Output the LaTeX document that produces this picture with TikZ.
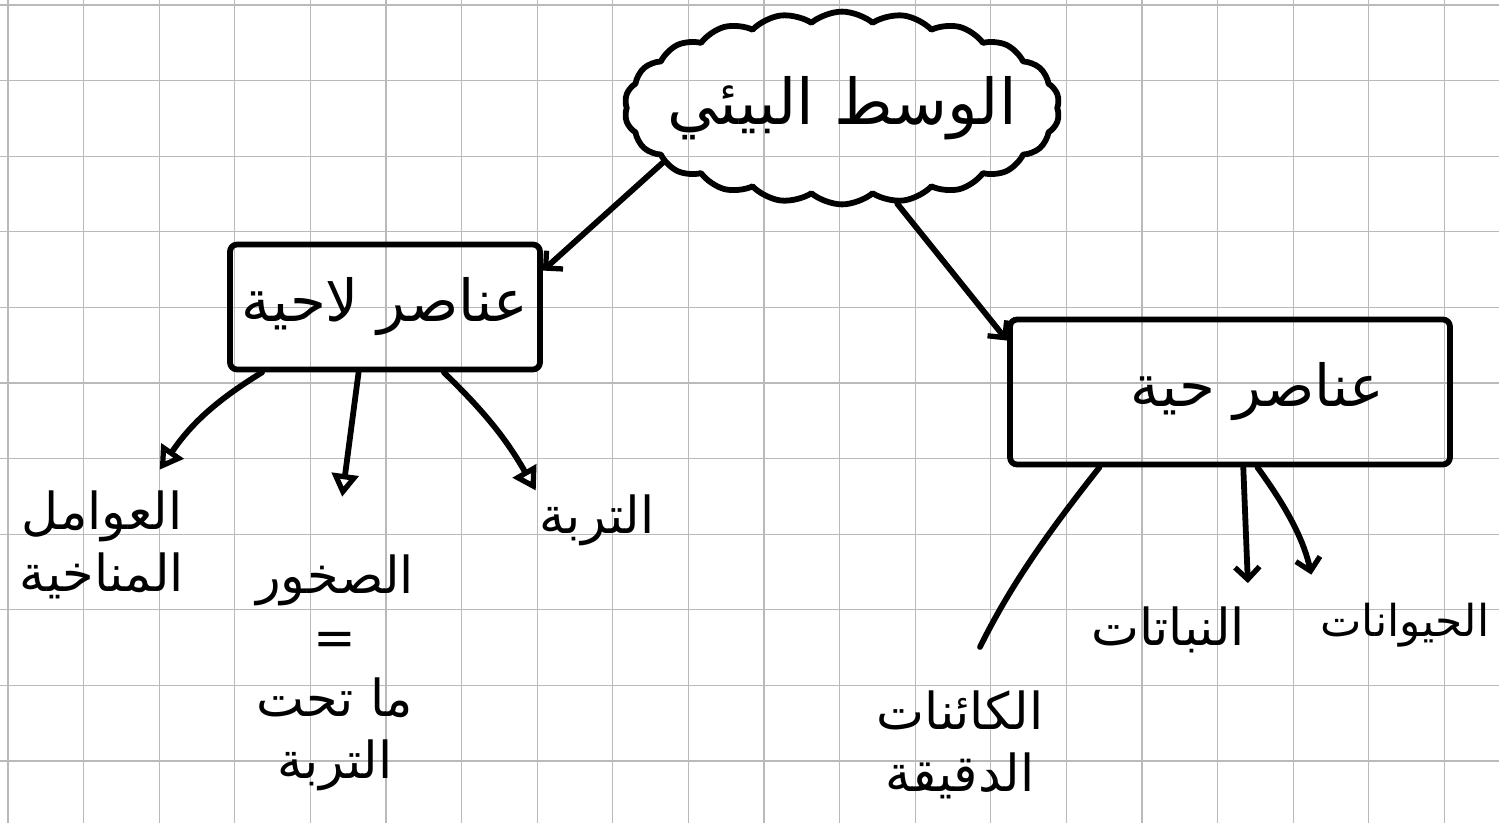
\documentclass[tikz,border=0pt]{standalone}
\usepackage{fontspec}
\newfontfamily\arabicfont[Script=Arabic]{DejaVu Sans}
\TeXXeTstate=1
\usetikzlibrary{positioning,arrows.meta,shapes.symbols}
\tikzset{grid line/.style={draw=black!27,line width=0.6pt},
	ink/.style={line width=3.3pt,line cap=round,line join=round},
	topic node/.style={cloud,cloud puffs=22,cloud puff arc=80,aspect=2.5,draw,ink,
		inner xsep=-0.45cm,inner ysep=-0.15cm,
		font=\arabicfont\fontsize{36}{40}\selectfont},
	group node/.style={draw,ink,rounded corners=4pt,
		font=\arabicfont\fontsize{33}{40}\selectfont},
	leaf node/.style={align=center,inner sep=2pt,
		font=\arabicfont\fontsize{29}{35}\selectfont},
	tri arrow/.style={ink,-{Triangle[open,length=13pt,width=15pt,line width=3pt]}},
	barb arrow/.style={ink,-{Straight Barb[length=7pt,width=14pt,line width=3pt]}},
}

\begin{document}
\begin{tikzpicture}[x=0.02cm,y=-0.02cm]
	\useasboundingbox (0,0) rectangle (1499,823);
	\fill[white] (0,0) rectangle (1499,823);
	
	% squared paper
	\foreach \gx in {8,83.6,...,1499} \draw[grid line] (\gx,0) -- (\gx,823);
	\foreach \gy in {5,80.6,...,823} \draw[grid line] (0,\gy) -- (1499,\gy);
	
	\node[topic node] (milieu) at (842,108) {\beginR الوسط البيئي\endR};
	\node[group node,minimum width=6.2cm,minimum height=2.5cm] (lifeless) at (385,307) {\beginR عناصر لاحية\endR};
	\node[group node,minimum width=8.8cm,minimum height=2.9cm] (living) at (1230,392) {\hspace{1.1cm}\beginR عناصر حية\endR};
	
	\node[leaf node] (climate) at (102,545) {\beginR العوامل\endR\\\beginR المناخية\endR};
	\node[leaf node] (rocks) at (335,673) {\beginR الصخور\endR\\=\\\beginR ما تحت\endR\\\beginR التربة\endR};
	\node[leaf node] (soil) at (597,520) {\beginR التربة\endR};
	\node[leaf node] (microbes) at (960,745) {\beginR الكائنات\endR\\\beginR الدقيقة\endR};
	\node[leaf node] (plants) at (1168,630) {\beginR النباتات\endR};
	\node[leaf node,font=\arabicfont\fontsize{25}{30}\selectfont] (animals) at (1405,625) {\beginR الحيوانات\endR};
	
	\draw[barb arrow] (milieu.197) -- (lifeless.13);
	\draw[barb arrow] (milieu.300) -- (living.167);
	
	\draw[tri arrow] (lifeless.208) to[bend right=12] ([yshift=10pt]climate.45);
	\draw[tri arrow,shorten >=1.1cm] (lifeless.-112) -- (rocks.north);
	\draw[tri arrow] (lifeless.-48) to[bend left=8] (soil.north west);
	
	\draw[ink,shorten >=0.9cm] (living.-150) to[bend right=6] (microbes.north);
	\draw[barb arrow,shorten >=0.4cm] (living.-80) -- (plants.north east);
	\draw[barb arrow,shorten >=0.5cm] (living.-70) to[bend left=12] (animals.north west);
\end{tikzpicture}
\end{document}
